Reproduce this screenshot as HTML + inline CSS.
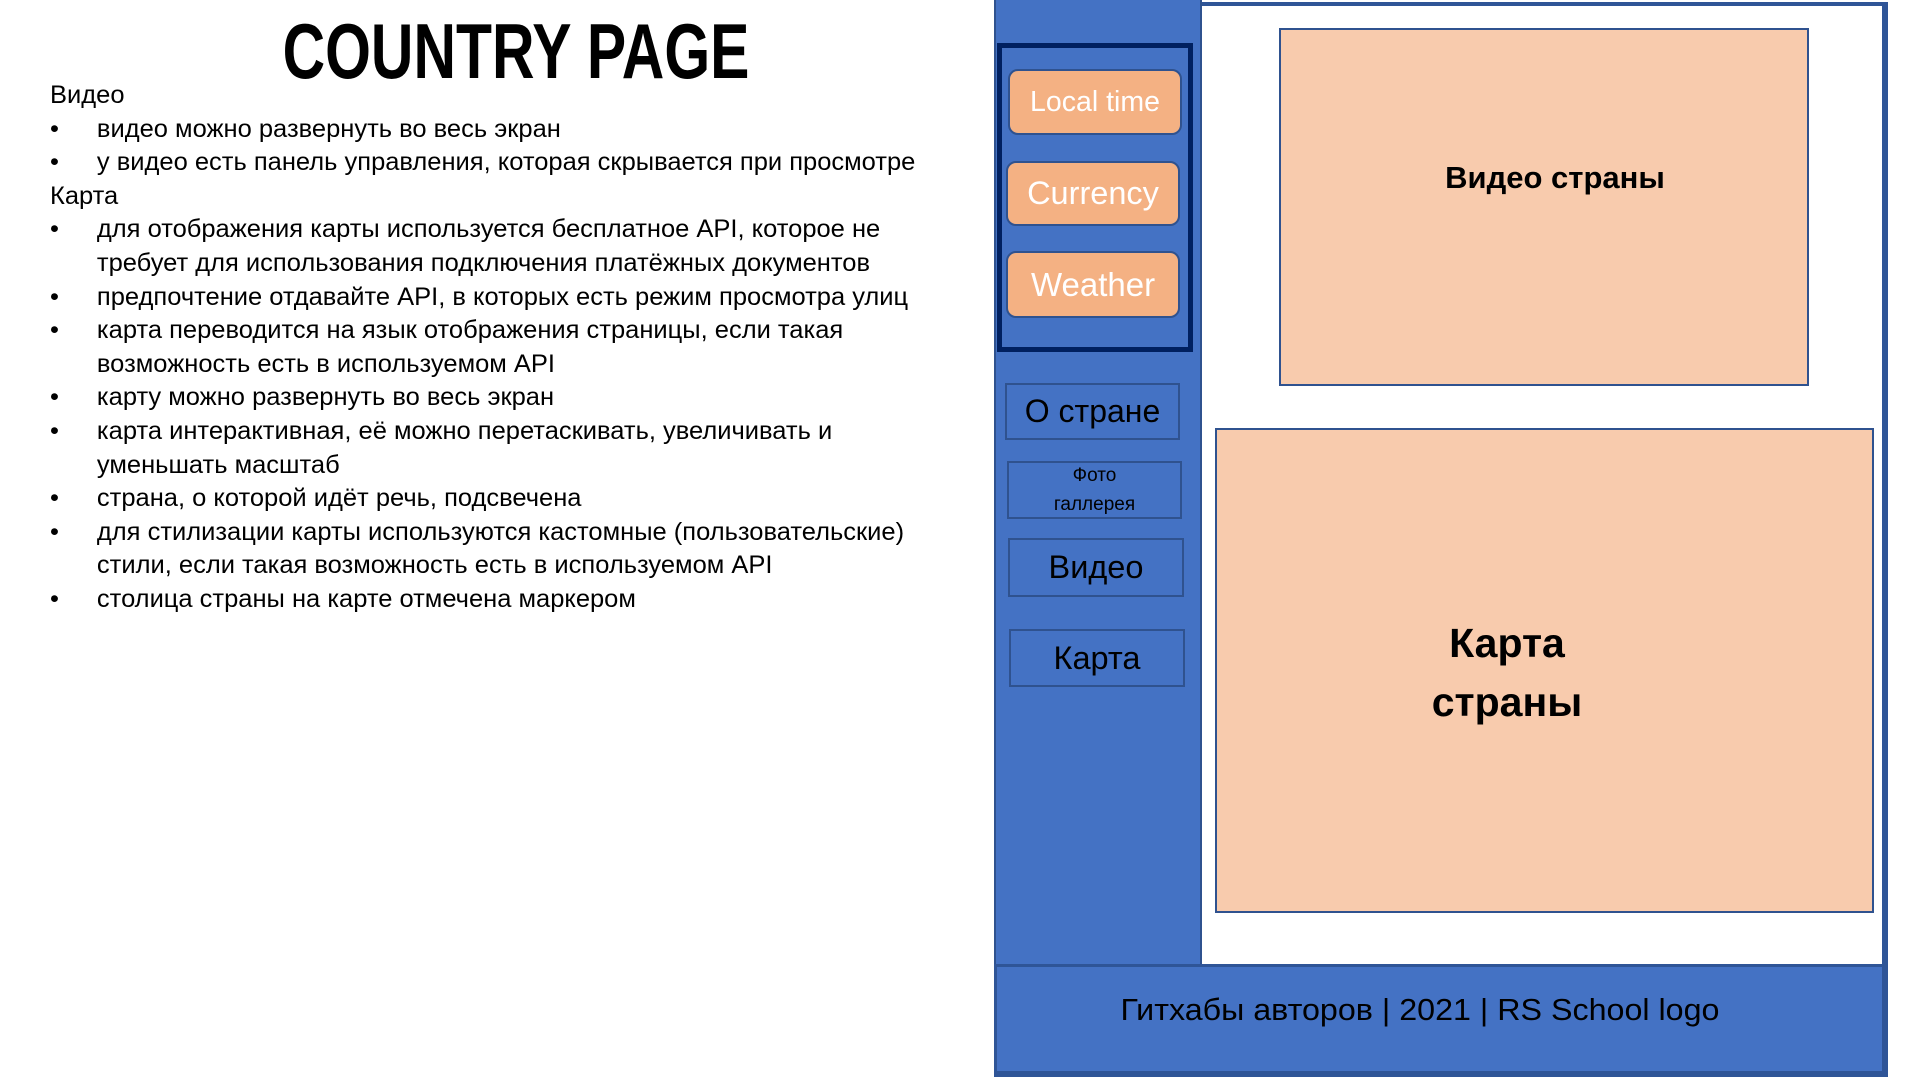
<!DOCTYPE html>
<html><head><meta charset="utf-8"><style>
body{margin:0;width:1920px;height:1080px;background:#fff;position:relative;overflow:hidden;font-family:"Liberation Sans",sans-serif}
.a{position:absolute;box-sizing:border-box}
.t{position:absolute;white-space:nowrap}
.btn{position:absolute;box-sizing:border-box;background:#F4B183;border:2px solid #2F528F;border-radius:10px;color:#fff;display:flex;align-items:center;justify-content:center;font-size:28px}
.nav{position:absolute;box-sizing:border-box;border:2px solid #2F528F;color:#000;display:flex;align-items:center;justify-content:center;font-size:32px;text-align:center}
.txt{position:absolute;left:50px;top:79px;font-size:25px;line-height:33.6px;color:#000;transform:scaleX(1.02);transform-origin:0 0;white-space:nowrap}
.txt div{height:33.6px}
.b{padding-left:46px;position:relative}
.b:before{content:"•";position:absolute;left:0}
.txt div.c:before{content:""}
</style></head><body>
<div class="t" style="left:516px;top:8px;transform:translateX(-50%) scaleX(0.755);font-weight:bold;font-size:78px;line-height:86px">COUNTRY PAGE</div>
<div class="txt">
<div>Видео</div>
<div class="b">видео можно развернуть во весь экран</div>
<div class="b">у видео есть панель управления, которая скрывается при просмотре</div>
<div>Карта</div>
<div class="b">для отображения карты используется бесплатное API, которое не</div>
<div class="b c">требует для использования подключения платёжных документов</div>
<div class="b">предпочтение отдавайте API, в которых есть режим просмотра улиц</div>
<div class="b">карта переводится на язык отображения страницы, если такая</div>
<div class="b c">возможность есть в используемом API</div>
<div class="b">карту можно развернуть во весь экран</div>
<div class="b">карта интерактивная, её можно перетаскивать, увеличивать и</div>
<div class="b c">уменьшать масштаб</div>
<div class="b">страна, о которой идёт речь, подсвечена</div>
<div class="b">для стилизации карты используются кастомные (пользовательские)</div>
<div class="b c">стили, если такая возможность есть в используемом API</div>
<div class="b">столица страны на карте отмечена маркером</div>
</div>

<div class="a" style="left:1198px;top:2px;width:690px;height:966px;border-top:4px solid #2F5597;border-right:6px solid #2F5597;background:#fff"></div>
<div class="a" style="left:994px;top:0;width:208px;height:966px;background:#4472C4;border-right:2px solid #2F528F;border-left:2px solid #2F528F"></div>
<div class="a" style="left:994px;top:964px;width:894px;height:113px;background:#4472C4;border-top:3px solid #2F5597;border-right:6px solid #2F5597;border-bottom:6px solid #2F5597;border-left:3px solid #2F5597"></div>
<div class="t" style="left:1420px;top:992px;transform:translateX(-50%) scaleX(1.04);font-size:31px;color:#000">Гитхабы авторов | 2021 | RS School logo</div>

<div class="a" style="left:997px;top:43px;width:196px;height:309px;border:5px solid #002060"></div>
<div class="btn" style="left:1008px;top:69px;width:174px;height:66px;font-size:28.5px">Local time</div>
<div class="btn" style="left:1006px;top:161px;width:174px;height:65px;font-size:32.5px">Currency</div>
<div class="btn" style="left:1006px;top:251px;width:174px;height:67px;font-size:33px">Weather</div>

<div class="nav" style="left:1005px;top:383px;width:175px;height:57px">О стране</div>
<div class="nav" style="left:1007px;top:461px;width:175px;height:58px;font-size:19px;line-height:29px">Фото<br>галлерея</div>
<div class="nav" style="left:1008px;top:538px;width:176px;height:59px;font-size:32.5px">Видео</div>
<div class="nav" style="left:1009px;top:629px;width:176px;height:58px;font-size:32.5px">Карта</div>

<div class="a" style="left:1279px;top:28px;width:530px;height:358px;background:#F8CBAD;border:2px solid #2F528F"></div>
<div class="t" style="left:1555px;top:160px;transform:translateX(-50%);font-size:31px;font-weight:bold">Видео страны</div>
<div class="a" style="left:1215px;top:428px;width:659px;height:485px;background:#F8CBAD;border:2px solid #2F528F"></div>
<div class="t" style="left:1507px;top:614px;transform:translateX(-50%);font-size:41px;font-weight:bold;line-height:59px;text-align:center">Карта<br>страны</div>
</body></html>
